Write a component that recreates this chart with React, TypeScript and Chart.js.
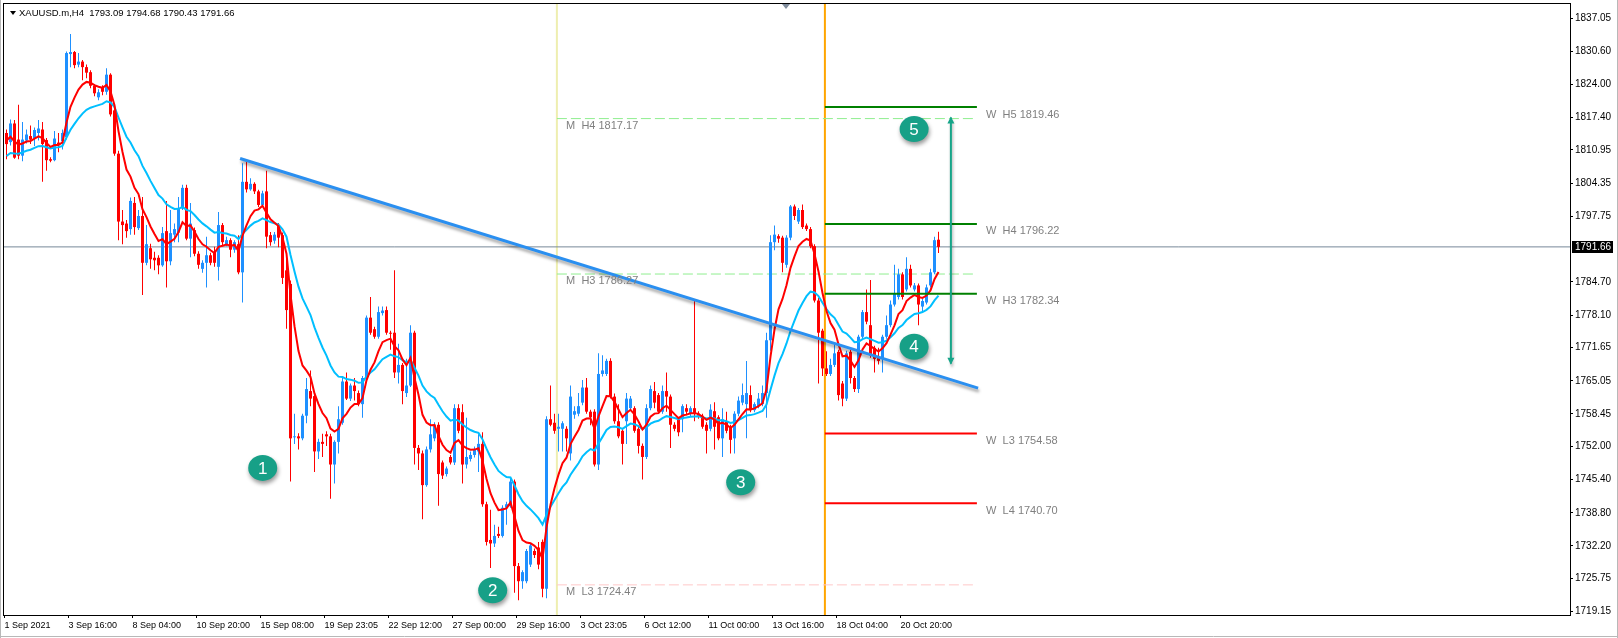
import React, { useEffect, useRef } from "react";
import { Chart, registerables } from "chart.js";
Chart.register(...registerables);

const symbol = "XAUUSD.m";
const timeframe = "H4";

const opens = [1814.3,1812.5,1816.2,1813.0,1809.8,1812.8,1813.7,1813.2,1814.3,1815.0,1812.9,1809.1,1808.9,1812.4,1812.7,1813.5,1830.0,1830.4,1827.9,1828.5,1827.4,1826.4,1823.7,1821.4,1823.3,1822.5,1825.9,1818.8,1810.2,1796.7,1796.3,1795.2,1800.4,1795.4,1797.8,1788.5,1791.4,1789.5,1789.5,1788.0,1794.8,1788.8,1794.1,1794.5,1799.3,1803.4,1793.3,1795.0,1790.3,1787.3,1788.5,1790.0,1790.6,1787.7,1796.0,1792.2,1793.0,1791.1,1792.2,1786.6,1804.6,1803.1,1804.2,1802.7,1800.0,1802.7,1794.0,1792.9,1796.0,1794.0,1787.0,1784.3,1753.8,1754.0,1753.6,1758.1,1763.0,1762.0,1751.0,1752.9,1754.4,1754.0,1748.4,1752.9,1756.7,1764.9,1761.5,1764.1,1762.6,1760.4,1765.6,1777.6,1775.3,1773.8,1778.5,1779.1,1774.6,1774.6,1766.7,1768.2,1762.6,1764.1,1774.6,1751.7,1750.6,1744.3,1751.4,1753.6,1756.3,1748.8,1746.5,1749.9,1748.8,1759.6,1758.8,1748.4,1749.5,1750.3,1751.0,1752.5,1740.5,1733.4,1732.7,1734.6,1734.2,1739.8,1740.1,1745.0,1728.2,1725.2,1725.2,1728.5,1731.2,1731.9,1733.0,1723.7,1757.4,1756.7,1755.5,1755.5,1755.5,1750.6,1758.3,1758.5,1760.7,1763.7,1758.9,1758.9,1748.4,1766.4,1766.4,1769.0,1761.9,1757.0,1755.1,1757.0,1759.6,1759.6,1755.5,1752.1,1749.9,1759.6,1763.0,1762.2,1758.9,1763.0,1761.9,1756.3,1757.4,1757.4,1759.6,1758.5,1759.6,1758.5,1758.1,1756.3,1755.5,1759.0,1757.8,1753.6,1757.0,1755.9,1753.6,1758.5,1760.7,1760.4,1762.2,1759.2,1760.0,1760.4,1762.6,1773.1,1792.6,1793.8,1793.5,1788.1,1793.5,1799.7,1796.7,1799.0,1795.9,1795.2,1791.8,1781.0,1775.0,1767.5,1766.4,1768.2,1770.8,1764.5,1761.5,1770.8,1765.6,1763.4,1773.8,1778.7,1776.1,1771.6,1769.7,1769.4,1773.8,1776.1,1780.2,1781.7,1786.2,1783.2,1787.3,1783.2,1784.0,1779.8,1780.6,1784.0,1786.6,1793.09];
const highs = [1815.0,1817.0,1816.9,1819.9,1816.5,1815.0,1815.8,1815.4,1816.9,1816.5,1813.3,1809.5,1814.7,1814.3,1815.0,1830.5,1834.0,1830.6,1830.2,1828.8,1827.9,1826.8,1824.0,1823.0,1823.8,1827.2,1826.2,1819.2,1810.8,1799.0,1797.0,1801.5,1801.6,1799.0,1801.6,1796.0,1792.3,1790.7,1790.0,1795.6,1800.8,1799.0,1796.3,1801.6,1804.0,1804.0,1800.4,1795.5,1790.8,1789.0,1793.7,1790.5,1791.7,1798.6,1796.4,1793.7,1793.4,1793.0,1794.0,1808.3,1808.7,1805.3,1804.5,1803.0,1802.8,1806.8,1794.6,1794.6,1796.4,1794.5,1789.5,1785.0,1758.5,1754.6,1758.5,1765.6,1767.1,1762.5,1753.5,1754.5,1755.0,1754.5,1753.2,1760.0,1765.6,1766.7,1764.5,1765.6,1763.1,1766.0,1778.0,1781.7,1775.8,1779.8,1779.8,1779.8,1775.0,1787.0,1772.4,1768.6,1769.4,1776.1,1775.0,1752.3,1751.2,1752.0,1757.4,1756.8,1756.8,1749.2,1748.0,1750.3,1760.4,1760.4,1760.4,1757.7,1751.0,1752.0,1754.4,1754.8,1741.0,1739.4,1736.4,1736.0,1740.3,1741.0,1745.8,1745.4,1728.8,1727.4,1731.6,1732.8,1731.7,1733.0,1733.5,1758.0,1764.1,1758.5,1758.5,1757.0,1756.0,1764.1,1760.0,1762.6,1765.2,1765.6,1759.3,1759.4,1770.5,1770.1,1769.4,1769.5,1762.5,1760.4,1755.6,1762.6,1762.0,1760.0,1756.0,1752.6,1760.4,1764.1,1764.8,1762.6,1764.1,1766.7,1762.3,1756.8,1757.8,1760.4,1760.4,1760.0,1781.0,1759.0,1758.5,1756.8,1760.4,1760.8,1758.2,1759.6,1758.9,1756.3,1759.0,1761.9,1764.5,1769.0,1764.1,1760.8,1762.6,1764.1,1774.6,1794.0,1795.9,1794.2,1793.9,1794.0,1800.0,1800.1,1799.4,1800.1,1796.3,1795.6,1792.2,1781.5,1775.4,1770.9,1769.4,1772.3,1771.2,1765.0,1771.0,1771.2,1766.0,1774.2,1779.1,1783.2,1785.1,1772.0,1771.6,1774.2,1778.0,1781.0,1788.1,1787.3,1786.6,1789.6,1788.1,1784.5,1784.4,1781.3,1784.2,1787.3,1793.7,1794.68];
const lows = [1809.1,1811.8,1809.2,1809.1,1808.7,1812.2,1812.1,1811.7,1812.8,1804.6,1806.8,1808.5,1808.7,1810.5,1811.0,1813.0,1827.4,1827.2,1827.4,1824.8,1825.2,1823.2,1821.6,1820.8,1821.8,1821.9,1817.6,1809.8,1793.0,1792.2,1793.5,1794.1,1794.1,1795.0,1782.1,1788.0,1787.3,1787.0,1786.2,1787.7,1783.6,1788.0,1792.6,1792.6,1799.0,1793.0,1789.6,1789.8,1787.3,1786.5,1783.6,1788.0,1787.7,1785.0,1791.8,1791.8,1789.6,1790.5,1786.2,1780.6,1802.5,1802.8,1802.2,1799.6,1799.7,1791.4,1791.9,1792.3,1791.6,1784.3,1775.4,1745.0,1752.5,1751.4,1753.2,1756.6,1760.0,1746.9,1749.5,1749.9,1752.1,1741.6,1744.6,1750.6,1756.3,1761.2,1761.0,1761.1,1760.0,1757.7,1765.0,1774.2,1773.4,1773.4,1778.0,1774.2,1771.2,1765.6,1764.5,1760.4,1761.8,1763.8,1748.4,1747.3,1737.5,1744.0,1750.8,1753.0,1740.2,1745.5,1746.0,1748.4,1748.3,1754.6,1744.6,1747.6,1749.0,1749.8,1746.9,1740.0,1732.3,1727.8,1732.0,1733.8,1733.9,1736.4,1739.8,1722.9,1721.4,1723.7,1724.8,1728.0,1729.8,1727.6,1722.0,1721.8,1756.0,1754.5,1751.0,1751.0,1751.0,1749.2,1757.5,1758.0,1760.2,1758.5,1756.2,1748.0,1747.3,1765.9,1766.0,1761.5,1756.5,1753.6,1748.4,1752.5,1759.2,1754.7,1750.6,1745.4,1749.5,1759.2,1759.6,1758.5,1758.5,1758.9,1751.7,1755.0,1754.0,1754.8,1758.2,1758.0,1757.0,1757.5,1755.5,1750.6,1755.0,1751.4,1753.2,1749.9,1754.6,1750.6,1750.6,1758.0,1760.2,1753.6,1758.8,1758.8,1759.6,1760.0,1757.7,1771.0,1791.0,1792.5,1786.6,1787.5,1793.0,1797.0,1796.2,1795.2,1794.8,1791.4,1780.6,1764.5,1766.0,1766.0,1766.0,1767.8,1761.1,1760.0,1761.0,1764.5,1762.8,1762.6,1773.4,1776.3,1769.6,1766.7,1768.3,1766.7,1773.4,1775.7,1779.8,1781.2,1781.2,1782.8,1783.6,1782.8,1776.1,1778.8,1780.2,1783.6,1786.2,1790.43];
const closes = [1812.1,1816.2,1809.4,1809.8,1813.0,1814.0,1813.0,1814.9,1815.2,1812.1,1808.9,1808.8,1813.2,1812.0,1814.3,1830.2,1830.4,1827.8,1828.5,1827.4,1826.3,1823.7,1822.2,1822.4,1822.5,1825.9,1818.0,1810.2,1796.7,1796.0,1794.8,1800.8,1795.6,1797.8,1788.5,1792.2,1789.2,1789.0,1788.0,1794.4,1788.8,1794.4,1795.2,1799.3,1803.4,1793.3,1796.3,1790.3,1788.1,1788.5,1790.0,1788.5,1788.5,1796.0,1792.6,1793.0,1791.1,1792.6,1786.6,1804.6,1803.1,1804.2,1802.7,1800.0,1802.3,1793.7,1792.6,1794.1,1793.5,1785.5,1779.1,1753.6,1754.0,1753.6,1758.1,1763.4,1761.5,1751.0,1752.9,1752.5,1754.0,1748.4,1752.9,1757.4,1764.9,1761.5,1764.1,1763.0,1760.4,1765.6,1777.6,1774.6,1773.8,1778.7,1779.0,1774.6,1774.4,1766.7,1768.2,1763.0,1764.1,1774.6,1751.7,1750.6,1744.3,1751.4,1754.4,1756.3,1746.5,1746.2,1747.6,1748.8,1759.6,1755.1,1748.4,1749.9,1750.3,1751.4,1752.5,1740.5,1733.0,1732.7,1734.2,1734.2,1739.8,1740.5,1745.0,1728.2,1725.2,1727.0,1731.2,1732.3,1730.4,1728.5,1723.7,1757.4,1756.3,1755.1,1755.9,1756.6,1753.6,1761.9,1759.0,1760.0,1763.7,1758.9,1757.8,1748.4,1766.4,1767.1,1769.0,1761.9,1757.0,1754.0,1752.5,1761.5,1761.5,1755.1,1752.1,1749.9,1759.6,1763.4,1760.7,1758.9,1763.0,1761.9,1756.3,1755.5,1754.8,1760.0,1758.9,1759.6,1758.5,1758.1,1755.9,1755.1,1759.3,1755.9,1753.6,1757.4,1755.1,1753.3,1758.5,1761.1,1762.2,1762.6,1759.2,1760.4,1761.5,1762.6,1773.1,1792.6,1794.1,1793.3,1788.5,1793.5,1799.7,1797.8,1799.0,1795.6,1795.2,1791.8,1781.0,1774.6,1767.5,1766.4,1768.2,1770.5,1762.2,1761.5,1770.5,1765.6,1763.4,1773.8,1778.7,1776.8,1770.1,1769.4,1769.0,1773.8,1776.1,1780.2,1782.5,1786.2,1781.7,1787.3,1784.0,1784.0,1780.2,1780.9,1783.6,1786.6,1793.0,1791.66];

const xTickBars = [0, 16, 32, 48, 64, 80, 96, 112, 128, 144, 160, 176, 192, 208, 224];
const xTickLabels = ["1 Sep 2021", "3 Sep 16:00", "8 Sep 04:00", "10 Sep 20:00", "15 Sep 08:00", "19 Sep 23:05", "22 Sep 12:00", "27 Sep 00:00", "29 Sep 16:00", "3 Oct 23:05", "6 Oct 12:00", "11 Oct 00:00", "13 Oct 16:00", "18 Oct 04:00", "20 Oct 20:00"];
const yTickValues = [1837.05, 1830.6, 1824.0, 1817.4, 1810.95, 1804.35, 1797.75, 1784.7, 1778.1, 1771.65, 1765.05, 1758.45, 1752.0, 1745.4, 1738.8, 1732.2, 1725.75, 1719.15];

// moving averages (EMA 8 red, EMA 21 light blue), seeded with values read at the left edge
const fastPeriod = 8;
const slowPeriod = 21;
const fastSeed = 1813.0;
const slowSeed = 1809.5;

// drawn objects
const trendBars = [58.4, 242.9];
const trendPrices = [1809.24, 1763.59];
const monthStartBar = 137.6;
const weekStartBar = 204.6;
const pivotEndBar = 242.6;
const monthlyNames = ["H4", "H3", "L3"];
const monthlyLevels = [1817.17, 1786.27, 1724.47];
const weeklyNames = ["H5", "H4", "H3", "L3", "L4"];
const weeklyLevels = [1819.46, 1796.22, 1782.34, 1754.58, 1740.7];
const monthlyLabelBar = 139.9;
const weeklyLabelBar = 244.9;
const arrowBar = 236.1;
const arrowPrices = [1768.45, 1817.4];
const badgeLabels = ["1", "2", "3", "4", "5"];
const badgeBars = [64.05, 121.55, 183.55, 226.9, 226.9];
const badgePrices = [1747.72, 1723.41, 1744.88, 1771.82, 1815.08];

const X_MIN = -0.875;
const X_MAX = 390.875;
const Y_MIN = 1718.48;
const Y_MAX = 1840.15;

const FONT = "'Liberation Sans', Arial, sans-serif";
const BULL = "#1E90FF";
const BEAR = "#FF0000";

function ema(vals: number[], period: number, seed: number) {
  const k = 2 / (period + 1);
  let p = seed;
  return vals.map((v) => {
    p = p + k * (v - p);
    return p;
  });
}

export default function App() {
  const ref = useRef<HTMLCanvasElement>(null);
  useEffect(() => {
    const canvas = ref.current!;
    const n = closes.length;
    const idx = closes.map((_, i) => i);
    const colors = idx.map((i) => (closes[i] >= opens[i] ? BULL : BEAR));
    const fast = ema(closes, fastPeriod, fastSeed);
    const slow = ema(closes, slowPeriod, slowSeed);
    const lastClose = closes[n - 1];

    const datasets: any[] = [];
    datasets.push({
      type: "line",
      data: [{ x: monthStartBar, y: Y_MIN }, { x: monthStartBar, y: Y_MAX }],
      borderColor: "rgba(232,232,150,0.75)",
      borderWidth: 2,
      pointRadius: 0,
      order: 40,
    });
    datasets.push({
      type: "line",
      data: [{ x: weekStartBar, y: Y_MIN }, { x: weekStartBar, y: Y_MAX }],
      borderColor: "#FFA500",
      borderWidth: 2,
      pointRadius: 0,
      order: 39,
    });
    datasets.push({
      type: "line",
      data: [{ x: X_MIN, y: lastClose }, { x: X_MAX, y: lastClose }],
      borderColor: "#778899",
      borderWidth: 1,
      pointRadius: 0,
      order: 38,
    });
    monthlyLevels.forEach((lv, k) => {
      datasets.push({
        type: "line",
        data: [{ x: monthStartBar, y: lv }, { x: pivotEndBar, y: lv }],
        borderColor: monthlyNames[k][0] === "H" ? "#90EE90" : "#FFC8C8",
        borderWidth: 1,
        borderDash: [10, 4],
        pointRadius: 0,
        order: 30,
      });
    });
    datasets.push({
      type: "bar",
      data: idx.map((i) => ({ x: i, y: [lows[i], highs[i]] })),
      backgroundColor: colors,
      barThickness: 1,
      grouped: false,
      inflateAmount: 0,
      borderWidth: 0,
      order: 20,
    });
    datasets.push({
      type: "bar",
      data: idx.map((i) => ({ x: i, y: [opens[i], closes[i]] })),
      backgroundColor: colors,
      barThickness: 3,
      minBarLength: 1,
      grouped: false,
      inflateAmount: 0,
      borderWidth: 0,
      order: 19,
    });
    datasets.push({
      type: "line",
      data: idx.map((i) => ({ x: i, y: slow[i] })),
      borderColor: "#00BFFF",
      borderWidth: 2,
      pointRadius: 0,
      order: 15,
    });
    datasets.push({
      type: "line",
      data: idx.map((i) => ({ x: i, y: fast[i] })),
      borderColor: "#FF0000",
      borderWidth: 2,
      pointRadius: 0,
      order: 14,
    });
    weeklyLevels.forEach((lv, k) => {
      datasets.push({
        type: "line",
        data: [{ x: weekStartBar, y: lv }, { x: pivotEndBar, y: lv }],
        borderColor: weeklyNames[k][0] === "H" ? "#008000" : "#FF0000",
        borderWidth: 2,
        pointRadius: 0,
        order: 10,
      });
    });
    datasets.push({
      type: "line",
      data: trendBars.map((b, k) => ({ x: b, y: trendPrices[k] })),
      borderColor: "#2A8FF0",
      borderWidth: 3,
      pointRadius: 0,
      order: 5,
      shadow: true,
    });
    datasets.push({
      type: "line",
      data: arrowPrices.map((p) => ({ x: arrowBar, y: p })),
      borderColor: "#17A589",
      borderWidth: 2,
      pointRadius: 0,
      order: 4,
      shadow: true,
    });

    const shadowPlugin = {
      id: "shadowPlugin",
      beforeDatasetDraw(chart: any, args: any) {
        const ds = chart.data.datasets[args.index];
        if (ds.shadow) {
          const ctx = chart.ctx;
          ctx.save();
          ctx.shadowColor = "rgba(0,0,0,0.35)";
          ctx.shadowBlur = 3;
          ctx.shadowOffsetX = 1;
          ctx.shadowOffsetY = 3;
        }
      },
      afterDatasetDraw(chart: any, args: any) {
        const ds = chart.data.datasets[args.index];
        if (ds.shadow) chart.ctx.restore();
      },
    };

    const overlayPlugin = {
      id: "overlayPlugin",
      beforeDraw(chart: any) {
        const ctx = chart.ctx;
        ctx.save();
        ctx.fillStyle = "#ffffff";
        ctx.fillRect(0, 0, chart.width, chart.height);
        ctx.restore();
      },
      afterDraw(chart: any) {
        const ctx = chart.ctx;
        const ca = chart.chartArea;
        const xs = chart.scales.x;
        const ys = chart.scales.y;
        ctx.save();
        // frame
        ctx.strokeStyle = "#000";
        ctx.lineWidth = 1;
        ctx.strokeRect(ca.left + 0.5, ca.top + 0.5, ca.right - ca.left, ca.bottom - ca.top);
        // window edges
        ctx.strokeStyle = "#b8b8b8";
        ctx.beginPath();
        ctx.moveTo(0.5, 0);
        ctx.lineTo(0.5, chart.height);
        ctx.moveTo(0, chart.height - 1.5);
        ctx.lineTo(chart.width, chart.height - 1.5);
        ctx.moveTo(chart.width - 0.5, 0);
        ctx.lineTo(chart.width - 0.5, chart.height);
        ctx.stroke();

        // title
        ctx.fillStyle = "#000";
        ctx.beginPath();
        ctx.moveTo(10, 11);
        ctx.lineTo(16, 11);
        ctx.lineTo(13, 15);
        ctx.closePath();
        ctx.fill();
        ctx.font = `9.5px ${FONT}`;
        ctx.textBaseline = "middle";
        ctx.textAlign = "left";
        const title = `${symbol},${timeframe}  ${opens[n - 1].toFixed(2)} ${highs[n - 1].toFixed(2)} ${lows[n - 1].toFixed(2)} ${closes[n - 1].toFixed(2)}`;
        ctx.fillText(title, 19, 13.5);

        // shift marker
        ctx.fillStyle = "#7f8c9c";
        ctx.beginPath();
        ctx.moveTo(782, 4);
        ctx.lineTo(790, 4);
        ctx.lineTo(786, 9);
        ctx.closePath();
        ctx.fill();

        // pivot labels
        ctx.fillStyle = "#808080";
        ctx.font = `11px ${FONT}`;
        ctx.textBaseline = "middle";
        monthlyLevels.forEach((lv, k) => {
          ctx.fillText(`M  ${monthlyNames[k]} ${lv.toFixed(2)}`, xs.getPixelForValue(monthlyLabelBar), ys.getPixelForValue(lv) + 7);
        });
        weeklyLevels.forEach((lv, k) => {
          ctx.fillText(`W  ${weeklyNames[k]} ${lv.toFixed(2)}`, xs.getPixelForValue(weeklyLabelBar), ys.getPixelForValue(lv) + 7.5);
        });

        // arrow heads
        const ax = xs.getPixelForValue(arrowBar);
        const aTop = ys.getPixelForValue(arrowPrices[1]);
        const aBot = ys.getPixelForValue(arrowPrices[0]);
        ctx.fillStyle = "#17A589";
        ctx.beginPath();
        ctx.moveTo(ax, aTop - 1);
        ctx.lineTo(ax - 3.5, aTop + 6);
        ctx.lineTo(ax + 3.5, aTop + 6);
        ctx.closePath();
        ctx.fill();
        ctx.beginPath();
        ctx.moveTo(ax, aBot + 1);
        ctx.lineTo(ax - 3.5, aBot - 6);
        ctx.lineTo(ax + 3.5, aBot - 6);
        ctx.closePath();
        ctx.fill();

        // badges
        badgeLabels.forEach((lab, k) => {
          const px = xs.getPixelForValue(badgeBars[k]);
          const py = ys.getPixelForValue(badgePrices[k]);
          ctx.save();
          ctx.shadowColor = "rgba(0,0,0,0.4)";
          ctx.shadowBlur = 4;
          ctx.shadowOffsetX = 1;
          ctx.shadowOffsetY = 3;
          ctx.fillStyle = "#17A087";
          ctx.beginPath();
          ctx.ellipse(px, py, 14.5, 13, 0, 0, Math.PI * 2);
          ctx.fill();
          ctx.restore();
          ctx.fillStyle = "#ffffff";
          ctx.font = `17px ${FONT}`;
          ctx.textAlign = "center";
          ctx.textBaseline = "middle";
          ctx.fillText(lab, px, py + 1);
        });

        // current price label
        const py = ys.getPixelForValue(lastClose);
        ctx.fillStyle = "#000";
        ctx.fillRect(ca.right + 2, Math.round(py) - 6, 41, 12);
        ctx.fillStyle = "#fff";
        ctx.font = `10px ${FONT}`;
        ctx.textAlign = "left";
        ctx.textBaseline = "middle";
        ctx.fillText(lastClose.toFixed(2), ca.right + 5, Math.round(py));
        ctx.restore();
      },
    };

    const chart = new Chart(canvas, {
      type: "bar",
      data: { datasets },
      options: {
        animation: false,
        responsive: false,
        devicePixelRatio: 1,
        events: [],
        layout: { padding: { left: 3, top: 3, right: 0, bottom: 0 } },
        plugins: { legend: { display: false }, tooltip: { enabled: false } },
        scales: {
          x: {
            type: "linear",
            min: X_MIN,
            max: X_MAX,
            offset: false,
            grid: { display: true, offset: false, drawOnChartArea: false, drawTicks: true, tickLength: 3, color: "#000" },
            border: { display: false },
            ticks: {
              autoSkip: false,
              maxRotation: 0,
              minRotation: 0,
              align: "start",
              padding: 2,
              color: "#000",
              font: { family: FONT, size: 9 },
              callback: (_v: any, i: number) => xTickLabels[i],
            },
            afterBuildTicks: (s: any) => {
              s.ticks = xTickBars.map((b) => ({ value: b - 0.5 }));
            },
            afterFit: (s: any) => {
              s.height = 23;
              s.paddingLeft = 0;
              s.paddingRight = 0;
            },
          },
          y: {
            type: "linear",
            position: "right",
            min: Y_MIN,
            max: Y_MAX,
            grid: { display: true, drawOnChartArea: false, drawTicks: true, tickLength: 3, color: "#000" },
            border: { display: false },
            ticks: {
              autoSkip: false,
              padding: 2,
              color: "#000",
              font: { family: FONT, size: 10 },
              callback: (v: any) => Number(v).toFixed(2),
            },
            afterBuildTicks: (s: any) => {
              s.ticks = yTickValues.map((v) => ({ value: v }));
            },
            afterFit: (s: any) => {
              s.width = 48;
              s.paddingTop = 0;
              s.paddingBottom = 0;
            },
          },
        },
      } as any,
      plugins: [shadowPlugin, overlayPlugin],
    });
    return () => chart.destroy();
  }, []);

  return (
    <div style={{ position: "fixed", left: 0, top: 0, width: 1618, height: 638, background: "#fff" }}>
      <canvas ref={ref} width={1618} height={638} style={{ display: "block", width: 1618, height: 638 }} />
    </div>
  );
}
